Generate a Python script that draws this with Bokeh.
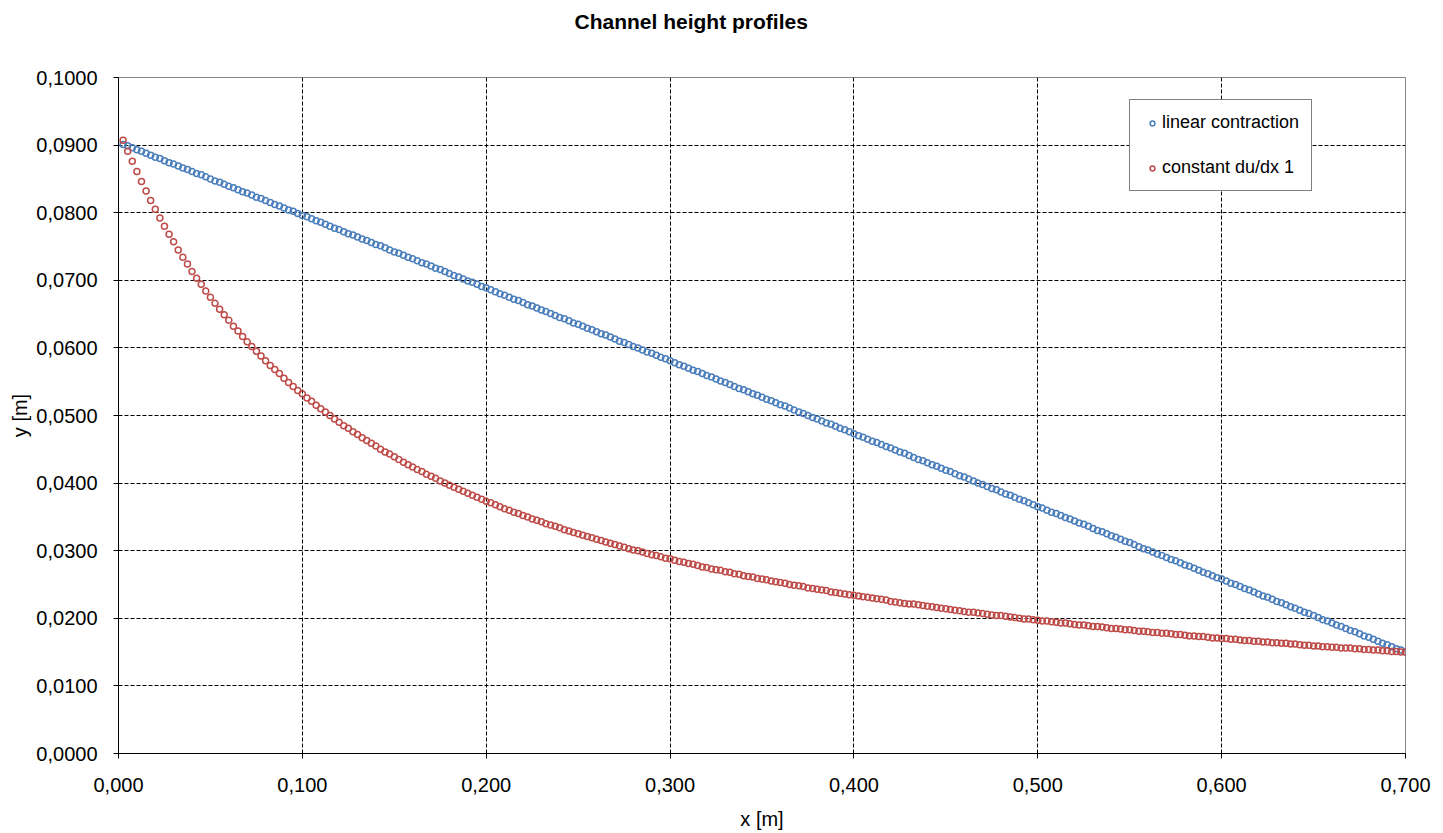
from bokeh.plotting import figure
from bokeh.models import Range1d, FixedTicker, CustomJSTickFormatter, Title
from bokeh.embed import file_html
from bokeh.resources import INLINE

# ---------------- data ----------------
x_m = [
    0.0025, 0.005, 0.0075, 0.01, 0.0125, 0.015, 0.0175, 0.02, 0.0225, 0.025, 0.0275, 0.03, 0.0325, 0.035, 0.0375, 0.04, 0.0425, 0.045, 0.0475, 0.05,
    0.0525, 0.055, 0.0575, 0.06, 0.0625, 0.065, 0.0675, 0.07, 0.0725, 0.075, 0.0775, 0.08, 0.0825, 0.085, 0.0875, 0.09, 0.0925, 0.095, 0.0975, 0.1,
    0.1025, 0.105, 0.1075, 0.11, 0.1125, 0.115, 0.1175, 0.12, 0.1225, 0.125, 0.1275, 0.13, 0.1325, 0.135, 0.1375, 0.14, 0.1425, 0.145, 0.1475, 0.15,
    0.1525, 0.155, 0.1575, 0.16, 0.1625, 0.165, 0.1675, 0.17, 0.1725, 0.175, 0.1775, 0.18, 0.1825, 0.185, 0.1875, 0.19, 0.1925, 0.195, 0.1975, 0.2,
    0.2025, 0.205, 0.2075, 0.21, 0.2125, 0.215, 0.2175, 0.22, 0.2225, 0.225, 0.2275, 0.23, 0.2325, 0.235, 0.2375, 0.24, 0.2425, 0.245, 0.2475, 0.25,
    0.2525, 0.255, 0.2575, 0.26, 0.2625, 0.265, 0.2675, 0.27, 0.2725, 0.275, 0.2775, 0.28, 0.2825, 0.285, 0.2875, 0.29, 0.2925, 0.295, 0.2975, 0.3,
    0.3025, 0.305, 0.3075, 0.31, 0.3125, 0.315, 0.3175, 0.32, 0.3225, 0.325, 0.3275, 0.33, 0.3325, 0.335, 0.3375, 0.34, 0.3425, 0.345, 0.3475, 0.35,
    0.3525, 0.355, 0.3575, 0.36, 0.3625, 0.365, 0.3675, 0.37, 0.3725, 0.375, 0.3775, 0.38, 0.3825, 0.385, 0.3875, 0.39, 0.3925, 0.395, 0.3975, 0.4,
    0.4025, 0.405, 0.4075, 0.41, 0.4125, 0.415, 0.4175, 0.42, 0.4225, 0.425, 0.4275, 0.43, 0.4325, 0.435, 0.4375, 0.44, 0.4425, 0.445, 0.4475, 0.45,
    0.4525, 0.455, 0.4575, 0.46, 0.4625, 0.465, 0.4675, 0.47, 0.4725, 0.475, 0.4775, 0.48, 0.4825, 0.485, 0.4875, 0.49, 0.4925, 0.495, 0.4975, 0.5,
    0.5025, 0.505, 0.5075, 0.51, 0.5125, 0.515, 0.5175, 0.52, 0.5225, 0.525, 0.5275, 0.53, 0.5325, 0.535, 0.5375, 0.54, 0.5425, 0.545, 0.5475, 0.55,
    0.5525, 0.555, 0.5575, 0.56, 0.5625, 0.565, 0.5675, 0.57, 0.5725, 0.575, 0.5775, 0.58, 0.5825, 0.585, 0.5875, 0.59, 0.5925, 0.595, 0.5975, 0.6,
    0.6025, 0.605, 0.6075, 0.61, 0.6125, 0.615, 0.6175, 0.62, 0.6225, 0.625, 0.6275, 0.63, 0.6325, 0.635, 0.6375, 0.64, 0.6425, 0.645, 0.6475, 0.65,
    0.6525, 0.655, 0.6575, 0.66, 0.6625, 0.665, 0.6675, 0.67, 0.6725, 0.675, 0.6775, 0.68, 0.6825, 0.685, 0.6875, 0.69, 0.6925, 0.695, 0.6975, 0.7,
]

linear_contraction = [
    0.0901, 0.0899, 0.0896, 0.0893, 0.0891, 0.0888, 0.0885, 0.0882, 0.0880, 0.0877, 0.0874, 0.0872, 0.0869, 0.0866, 0.0864, 0.0861, 0.0858, 0.0856, 0.0853, 0.0850,
    0.0847, 0.0845, 0.0842, 0.0839, 0.0837, 0.0834, 0.0831, 0.0829, 0.0826, 0.0823, 0.0821, 0.0818, 0.0815, 0.0812, 0.0810, 0.0807, 0.0804, 0.0802, 0.0799, 0.0796,
    0.0794, 0.0791, 0.0788, 0.0786, 0.0783, 0.0780, 0.0777, 0.0775, 0.0772, 0.0769, 0.0767, 0.0764, 0.0761, 0.0759, 0.0756, 0.0753, 0.0751, 0.0748, 0.0745, 0.0742,
    0.0740, 0.0737, 0.0734, 0.0732, 0.0729, 0.0726, 0.0724, 0.0721, 0.0718, 0.0716, 0.0713, 0.0710, 0.0707, 0.0705, 0.0702, 0.0699, 0.0697, 0.0694, 0.0691, 0.0689,
    0.0686, 0.0683, 0.0680, 0.0678, 0.0675, 0.0672, 0.0670, 0.0667, 0.0664, 0.0662, 0.0659, 0.0656, 0.0654, 0.0651, 0.0648, 0.0645, 0.0643, 0.0640, 0.0637, 0.0635,
    0.0632, 0.0629, 0.0627, 0.0624, 0.0621, 0.0619, 0.0616, 0.0613, 0.0610, 0.0608, 0.0605, 0.0602, 0.0600, 0.0597, 0.0594, 0.0592, 0.0589, 0.0586, 0.0584, 0.0581,
    0.0578, 0.0575, 0.0573, 0.0570, 0.0567, 0.0565, 0.0562, 0.0559, 0.0557, 0.0554, 0.0551, 0.0549, 0.0546, 0.0543, 0.0540, 0.0538, 0.0535, 0.0532, 0.0530, 0.0527,
    0.0524, 0.0522, 0.0519, 0.0516, 0.0514, 0.0511, 0.0508, 0.0505, 0.0503, 0.0500, 0.0497, 0.0495, 0.0492, 0.0489, 0.0487, 0.0484, 0.0481, 0.0479, 0.0476, 0.0473,
    0.0470, 0.0468, 0.0465, 0.0462, 0.0460, 0.0457, 0.0454, 0.0452, 0.0449, 0.0446, 0.0444, 0.0441, 0.0438, 0.0435, 0.0433, 0.0430, 0.0427, 0.0425, 0.0422, 0.0419,
    0.0417, 0.0414, 0.0411, 0.0409, 0.0406, 0.0403, 0.0400, 0.0398, 0.0395, 0.0392, 0.0390, 0.0387, 0.0384, 0.0382, 0.0379, 0.0376, 0.0374, 0.0371, 0.0368, 0.0365,
    0.0363, 0.0360, 0.0357, 0.0355, 0.0352, 0.0349, 0.0347, 0.0344, 0.0341, 0.0339, 0.0336, 0.0333, 0.0330, 0.0328, 0.0325, 0.0322, 0.0320, 0.0317, 0.0314, 0.0312,
    0.0309, 0.0306, 0.0303, 0.0301, 0.0298, 0.0295, 0.0293, 0.0290, 0.0287, 0.0285, 0.0282, 0.0279, 0.0277, 0.0274, 0.0271, 0.0268, 0.0266, 0.0263, 0.0260, 0.0258,
    0.0255, 0.0252, 0.0250, 0.0247, 0.0244, 0.0242, 0.0239, 0.0236, 0.0233, 0.0231, 0.0228, 0.0225, 0.0223, 0.0220, 0.0217, 0.0215, 0.0212, 0.0209, 0.0207, 0.0204,
    0.0201, 0.0198, 0.0196, 0.0193, 0.0190, 0.0188, 0.0185, 0.0182, 0.0180, 0.0177, 0.0174, 0.0172, 0.0169, 0.0166, 0.0163, 0.0161, 0.0158, 0.0155, 0.0153, 0.0150,
]

constant_dudx = [
    0.0907, 0.0891, 0.0876, 0.0861, 0.0846, 0.0832, 0.0818, 0.0805, 0.0792, 0.0780, 0.0768, 0.0757, 0.0745, 0.0734, 0.0724, 0.0713, 0.0703, 0.0694, 0.0684, 0.0675,
    0.0666, 0.0657, 0.0649, 0.0641, 0.0632, 0.0625, 0.0617, 0.0609, 0.0602, 0.0595, 0.0588, 0.0581, 0.0574, 0.0568, 0.0562, 0.0555, 0.0549, 0.0543, 0.0537, 0.0532,
    0.0526, 0.0521, 0.0515, 0.0510, 0.0505, 0.0500, 0.0495, 0.0490, 0.0485, 0.0481, 0.0476, 0.0472, 0.0467, 0.0463, 0.0459, 0.0455, 0.0450, 0.0446, 0.0443, 0.0439,
    0.0435, 0.0431, 0.0427, 0.0424, 0.0420, 0.0417, 0.0413, 0.0410, 0.0407, 0.0403, 0.0400, 0.0397, 0.0394, 0.0391, 0.0388, 0.0385, 0.0382, 0.0379, 0.0376, 0.0373,
    0.0371, 0.0368, 0.0365, 0.0362, 0.0360, 0.0357, 0.0355, 0.0352, 0.0350, 0.0347, 0.0345, 0.0343, 0.0340, 0.0338, 0.0336, 0.0334, 0.0331, 0.0329, 0.0327, 0.0325,
    0.0323, 0.0321, 0.0319, 0.0317, 0.0315, 0.0313, 0.0311, 0.0309, 0.0307, 0.0305, 0.0303, 0.0301, 0.0300, 0.0298, 0.0296, 0.0294, 0.0293, 0.0291, 0.0289, 0.0288,
    0.0286, 0.0284, 0.0283, 0.0281, 0.0280, 0.0278, 0.0276, 0.0275, 0.0273, 0.0272, 0.0271, 0.0269, 0.0268, 0.0266, 0.0265, 0.0263, 0.0262, 0.0261, 0.0259, 0.0258,
    0.0257, 0.0255, 0.0254, 0.0253, 0.0252, 0.0250, 0.0249, 0.0248, 0.0247, 0.0245, 0.0244, 0.0243, 0.0242, 0.0241, 0.0239, 0.0238, 0.0237, 0.0236, 0.0235, 0.0234,
    0.0233, 0.0232, 0.0231, 0.0230, 0.0229, 0.0228, 0.0227, 0.0225, 0.0224, 0.0223, 0.0222, 0.0221, 0.0221, 0.0220, 0.0219, 0.0218, 0.0217, 0.0216, 0.0215, 0.0214,
    0.0213, 0.0212, 0.0211, 0.0210, 0.0209, 0.0209, 0.0208, 0.0207, 0.0206, 0.0205, 0.0204, 0.0204, 0.0203, 0.0202, 0.0201, 0.0200, 0.0199, 0.0199, 0.0198, 0.0197,
    0.0196, 0.0196, 0.0195, 0.0194, 0.0193, 0.0193, 0.0192, 0.0191, 0.0190, 0.0190, 0.0189, 0.0188, 0.0188, 0.0187, 0.0186, 0.0185, 0.0185, 0.0184, 0.0183, 0.0183,
    0.0182, 0.0181, 0.0181, 0.0180, 0.0179, 0.0179, 0.0178, 0.0178, 0.0177, 0.0176, 0.0176, 0.0175, 0.0174, 0.0174, 0.0173, 0.0173, 0.0172, 0.0171, 0.0171, 0.0170,
    0.0170, 0.0169, 0.0169, 0.0168, 0.0167, 0.0167, 0.0166, 0.0166, 0.0165, 0.0165, 0.0164, 0.0164, 0.0163, 0.0163, 0.0162, 0.0162, 0.0161, 0.0160, 0.0160, 0.0159,
    0.0159, 0.0158, 0.0158, 0.0157, 0.0157, 0.0156, 0.0156, 0.0156, 0.0155, 0.0155, 0.0154, 0.0154, 0.0153, 0.0153, 0.0152, 0.0152, 0.0151, 0.0151, 0.0150, 0.0150,
]

chart_title = "Channel height profiles"
series_names = ["linear contraction", "constant du/dx 1"]
x_ticks = [0.0, 0.1, 0.2, 0.3, 0.4, 0.5, 0.6, 0.7]
y_ticks = [0.0, 0.01, 0.02, 0.03, 0.04, 0.05, 0.06, 0.07, 0.08, 0.09, 0.1]
x_grid_ticks = [0.1, 0.2, 0.3, 0.4, 0.5, 0.6]
y_grid_ticks = [0.01, 0.02, 0.03, 0.04, 0.05, 0.06, 0.07, 0.08, 0.09]

# ---------------- figure ----------------
FONT = "Liberation Sans"

p = figure(
    width=1440, height=832,
    output_backend="svg", toolbar_location=None,
    x_range=Range1d(0, 0.7), y_range=Range1d(0, 0.1),
    min_border_left=118, min_border_right=35,
    min_border_top=77, min_border_bottom=79,
)
p.title = None
p.background_fill_color = "white"
p.border_fill_color = "white"
p.outline_line_color = "#868686"
p.outline_line_width = 1

# spacer (nearest the frame) then the real title above it
p.add_layout(Title(text=" ", text_font_size="1px", standoff=37), "above")
p.add_layout(Title(text=chart_title, text_font=FONT, text_font_size="21px",
                   text_font_style="bold", text_color="black",
                   align="left", offset=456, standoff=10), "above")

# axes
for ax in (p.xaxis[0], p.yaxis[0]):
    ax.axis_line_color = "black"
    ax.axis_line_width = 1
    ax.major_tick_line_color = "black"
    ax.major_tick_out = 5
    ax.major_tick_in = 0
    ax.minor_tick_line_color = None
    ax.major_label_text_font = FONT
    ax.major_label_text_font_size = "20px"
    ax.major_label_text_color = "black"
    ax.axis_label_text_font = FONT
    ax.axis_label_text_font_size = "20px"
    ax.axis_label_text_font_style = "normal"
    ax.axis_label_text_color = "black"

p.xaxis.ticker = FixedTicker(ticks=x_ticks)
p.yaxis.ticker = FixedTicker(ticks=y_ticks)
p.xaxis.formatter = CustomJSTickFormatter(code="return tick.toFixed(3).replace('.', ',');")
p.yaxis.formatter = CustomJSTickFormatter(code="return tick.toFixed(4).replace('.', ',');")
p.xaxis.axis_label = "x [m]"
p.yaxis.axis_label = "y [m]"
p.xaxis.major_label_standoff = 19
p.xaxis.axis_label_standoff = 13
p.yaxis.major_label_standoff = 16
p.yaxis.axis_label_standoff = 2

# grid
p.xgrid.ticker = FixedTicker(ticks=x_grid_ticks)
p.ygrid.ticker = FixedTicker(ticks=y_grid_ticks)
for g in (p.xgrid[0], p.ygrid[0]):
    g.grid_line_color = "black"
    g.grid_line_width = 1
    g.grid_line_dash = "4 2"

# series
p.scatter(x_m, linear_contraction, marker="circle", size=6, fill_alpha=0,
          line_color="#4A7EBB", line_width=1.5, legend_label=series_names[0])
p.scatter(x_m, constant_dudx, marker="circle", size=6, fill_alpha=0,
          line_color="#BE4B48", line_width=1.5, legend_label=series_names[1])

# legend
lg = p.legend[0]
lg.location = (1011, 562)
lg.border_line_color = "black"
lg.border_line_width = 1
lg.background_fill_color = "white"
lg.background_fill_alpha = 1
lg.label_text_font = FONT
lg.label_text_font_size = "18px"
lg.label_text_color = "black"
lg.padding = 12
lg.spacing = 24
lg.glyph_width = 20
lg.glyph_height = 12
lg.label_standoff = 0
lg.label_height = 21
lg.margin = 0

open("out.html", "w").write(file_html(p, INLINE))
